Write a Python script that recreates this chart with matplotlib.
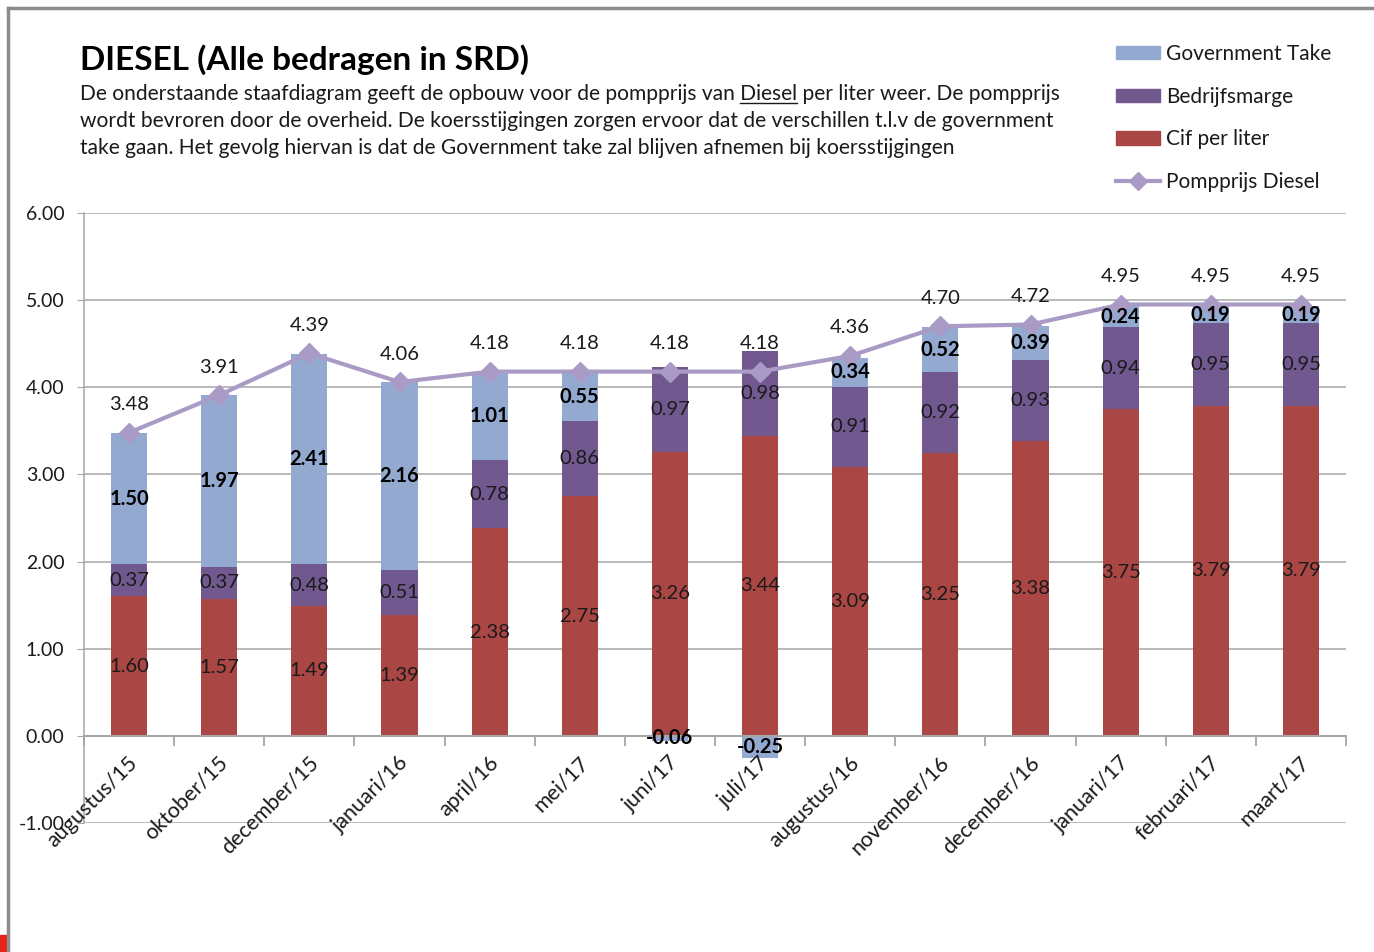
import numpy as np
import matplotlib
matplotlib.use("Agg")
import matplotlib.pyplot as plt
from matplotlib.lines import Line2D
from matplotlib.patches import Patch, Rectangle

plt.rcParams['font.family'] = ['Lato', 'DejaVu Sans']

categories = ["augustus/15", "oktober/15", "december/15", "januari/16", "april/16", "mei/17",
              "juni/17", "juli/17", "augustus/16", "november/16", "december/16", "januari/17",
              "februari/17", "maart/17"]
cif = [1.60, 1.57, 1.49, 1.39, 2.38, 2.75, 3.26, 3.44, 3.09, 3.25, 3.38, 3.75, 3.79, 3.79]
marge = [0.37, 0.37, 0.48, 0.51, 0.78, 0.86, 0.97, 0.98, 0.91, 0.92, 0.93, 0.94, 0.95, 0.95]
gov = [1.50, 1.97, 2.41, 2.16, 1.01, 0.55, -0.06, -0.25, 0.34, 0.52, 0.39, 0.24, 0.19, 0.19]
pomp = [3.48, 3.91, 4.39, 4.06, 4.18, 4.18, 4.18, 4.18, 4.36, 4.70, 4.72, 4.95, 4.95, 4.95]

C_GOV = "#93A9CF"
C_MARGE = "#71588F"
C_CIF = "#AA4643"
C_LINE = "#A99BC5"
C_GRID = "#A6A6A6"

W, H, DPI = 1374, 952, 100
fig = plt.figure(figsize=(W / DPI, H / DPI), dpi=DPI)
ax = fig.add_axes([84 / W, (H - 823) / H, (1346 - 84) / W, (823 - 213) / H])

x = np.arange(len(categories))
cif_a = np.array(cif)
marge_a = np.array(marge)
gov_a = np.array(gov)
bw = 0.40

ax.bar(x, cif_a, bw, color=C_CIF, zorder=2)
ax.bar(x, marge_a, bw, bottom=cif_a, color=C_MARGE, zorder=2)
gov_bottom = np.where(gov_a >= 0, cif_a + marge_a, 0.0)
ax.bar(x, gov_a, bw, bottom=gov_bottom, color=C_GOV, zorder=2)
ax.plot(x, pomp, color=C_LINE, lw=3, marker='D', ms=10, zorder=5)

lab_fs = 14.5
for i in range(len(x)):
    ax.text(x[i], cif_a[i] / 2, f"{cif[i]:.2f}", ha='center', va='center', fontsize=lab_fs, color='#1a1a1a', zorder=6)
    ax.text(x[i], cif_a[i] + marge_a[i] / 2, f"{marge[i]:.2f}", ha='center', va='center', fontsize=lab_fs, color='#1a1a1a', zorder=6)
    ax.text(x[i], gov_bottom[i] + gov_a[i] / 2, f"{gov[i]:.2f}", ha='center', va='center', fontsize=lab_fs,
            fontweight='bold', color='black', zorder=6)
    ax.annotate(f"{pomp[i]:.2f}", (x[i], pomp[i]), xytext=(0, 14), textcoords='offset points',
                ha='center', va='bottom', fontsize=lab_fs, color='#1a1a1a', zorder=6)

ax.set_xlim(-0.5, len(x) - 0.5)
ax.set_ylim(-1, 6)
ax.set_yticks(np.arange(-1, 7, 1))
ax.set_yticklabels([f"{v:.2f}" for v in np.arange(-1, 7, 1)], fontsize=14, color='#1a1a1a')
ax.yaxis.grid(True, color=C_GRID, lw=1.1, zorder=0)
ax.tick_params(axis='y', length=5, color=C_GRID, pad=9)
for s in ['top', 'right']:
    ax.spines[s].set_visible(False)
ax.spines['left'].set_color(C_GRID)
ax.spines['left'].set_linewidth(1.1)
ax.spines['bottom'].set_position(('data', 0))
ax.spines['bottom'].set_color(C_GRID)
ax.spines['bottom'].set_linewidth(1.5)
ax.set_xticks(np.arange(-0.5, len(x), 1))
ax.set_xticklabels([])
ax.tick_params(axis='x', length=7, color=C_GRID, width=1.3, direction='out')
ax.spines['bottom'].set_zorder(3)

for i, c in enumerate(categories):
    ax.annotate(c, (x[i], 0), xytext=(4, -17), textcoords='offset points', rotation=45,
                rotation_mode='anchor', ha='right', va='center', fontsize=15.5, color='#1a1a1a', zorder=7)

# Title and description
fig.text(80 / W, 1 - 70 / H, "DIESEL (Alle bedragen in SRD)", fontsize=24, fontweight='bold',
         ha='left', va='baseline', color='black')
lines = ["De onderstaande staafdiagram geeft de opbouw voor de pompprijs van Diesel per liter weer. De pompprijs",
         "wordt bevroren door de overheid. De koersstijgingen zorgen ervoor dat de verschillen t.l.v de government",
         "take gaan. Het gevolg hiervan is dat de Government take zal blijven afnemen bij koersstijgingen"]
body_fs = 15.1
for k, ln in enumerate(lines):
    fig.text(80 / W, 1 - (100 + 27 * k) / H, ln, fontsize=body_fs, ha='left', va='baseline', color='#1a1a1a')

# underline "Diesel"
fig.canvas.draw()
r = fig.canvas.get_renderer()
pre = "De onderstaande staafdiagram geeft de opbouw voor de pompprijs van Diesel"
t1 = fig.text(0, 0, pre, fontsize=body_fs, alpha=0)
t2 = fig.text(0, 0, "Diesel", fontsize=body_fs, alpha=0)
w1 = t1.get_window_extent(r).width
w2 = t2.get_window_extent(r).width
t1.remove(); t2.remove()
x0 = 80 + (w1 - w2)
x1 = 80 + w1
yb = H - 100 - 3
fig.add_artist(Line2D([x0 / W, x1 / W], [yb / H, yb / H], transform=fig.transFigure, color='#1a1a1a', lw=1))

# Legend
handles = [Patch(color=C_GOV), Patch(color=C_MARGE), Patch(color=C_CIF),
           Line2D([0], [0], color=C_LINE, lw=3, marker='D', ms=9)]
labels = ["Government Take", "Bedrijfsmarge", "Cif per liter", "Pompprijs Diesel"]
fig.legend(handles, labels, loc='upper left', bbox_to_anchor=(1116 / W, 1 - 44 / H), frameon=False,
           fontsize=15, handlelength=2.1, handleheight=0.6, handletextpad=0.3, labelspacing=1.09,
           borderpad=0, borderaxespad=0, labelcolor='#1a1a1a')

# figure border
fig.add_artist(Line2D([8 / W, 8 / W], [0, 1 - 8 / H], transform=fig.transFigure, color='#8C8C8C', lw=2.5))
fig.add_artist(Line2D([8 / W, 1], [1 - 8 / H, 1 - 8 / H], transform=fig.transFigure, color='#8C8C8C', lw=2.5))
fig.add_artist(Rectangle((0, 0), 7 / W, 17 / H, transform=fig.transFigure, color='#E8231B'))

fig.savefig("out.png", dpi=DPI)
